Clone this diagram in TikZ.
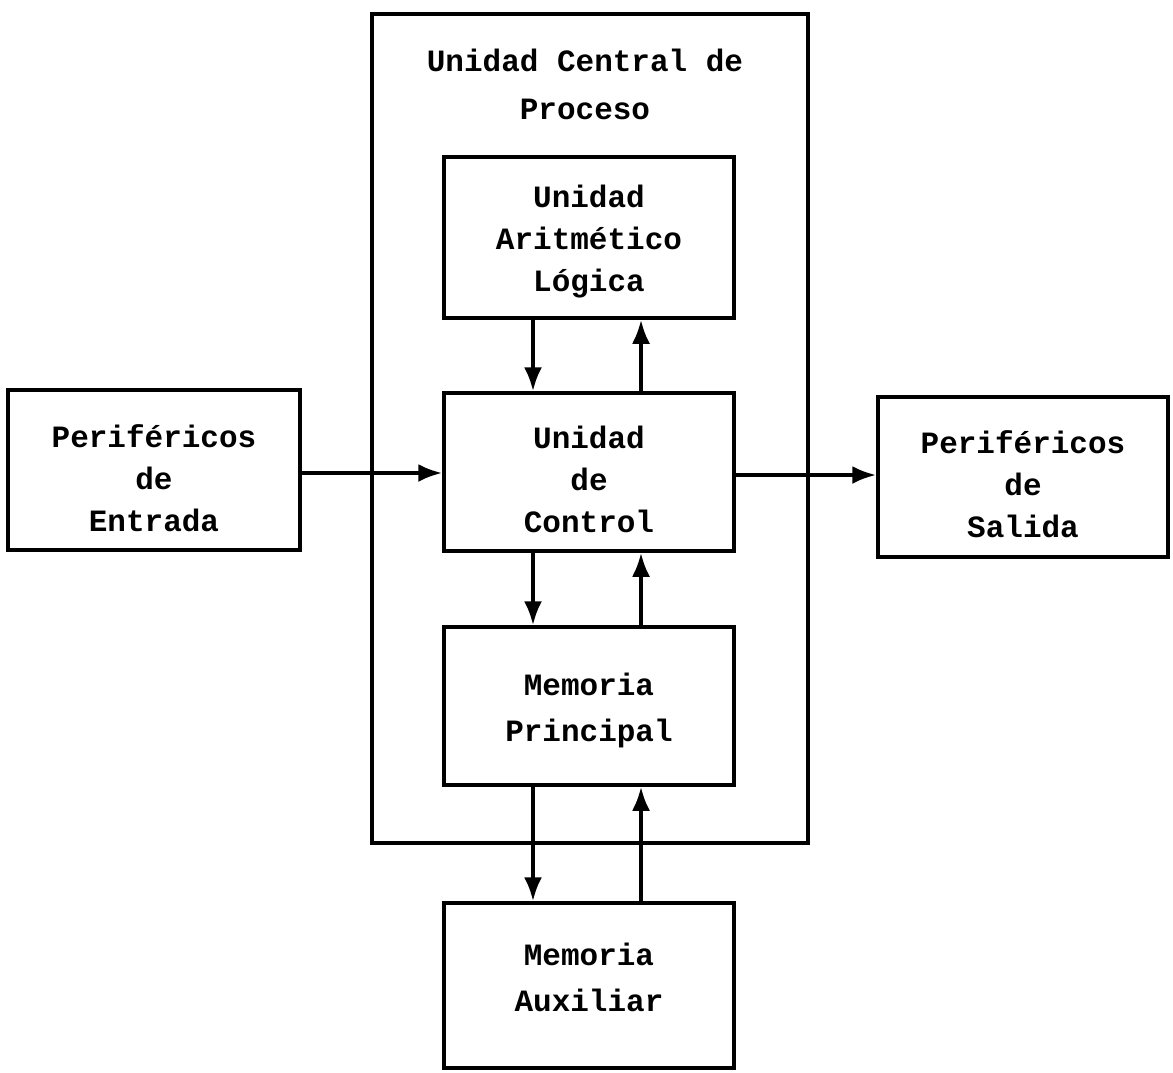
\documentclass[tikz,border=0pt]{standalone}
\usepackage{fontspec}
\setmonofont{Liberation Mono}
\usetikzlibrary{arrows.meta}
\begin{document}
\begin{tikzpicture}[x=1pt,y=-1pt,
  box/.style={draw, line width=3.5pt, minimum width=290pt, minimum height=158pt, inner sep=0pt},
  txt/.style={font=\fontsize{31}{42}\ttfamily\bfseries, align=center, inner sep=0pt},
  lbl/.style={font=\fontsize{31}{48}\ttfamily\bfseries, align=center},
  arr/.style={line width=3.8pt, -{Latex[length=24pt,width=18pt]}}]
\useasboundingbox (0,0) rectangle (1173,1072);
\draw[line width=3.5pt] (372,14) rectangle (808,843);
\node[lbl] (title) at (585,84) {Unidad Central de\\Proceso};
\node[box, minimum height=161pt] (alu) at (589,237.5) {};
\node[box] (uc) at (589,472) {};
\node[box] (mp) at (589,706) {};
\node[box, minimum height=165pt] (ma) at (589,985.5) {};
\node[box, minimum width=292pt, minimum height=160pt] (pe) at (154,470) {};
\node[box, minimum width=290pt, minimum height=160pt] (ps) at (1023,477) {};
\node[txt] (alut) at ([yshift=-4pt]alu.center) {Unidad\\Aritmético\\Lógica};
\node[txt] (uct) at ([yshift=-7pt]uc.center) {Unidad\\de\\Control};
\node[txt, font=\fontsize{31}{46}\ttfamily\bfseries] (mpt) at ([yshift=-4pt]mp.center) {Memoria\\Principal};
\node[txt, font=\fontsize{31}{46}\ttfamily\bfseries] (mat) at ([yshift=8pt]ma.center) {Memoria\\Auxiliar};
\node[txt] (pet) at ([yshift=-8pt]pe.center) {Periféricos\\de\\Entrada};
\node[txt] (pst) at ([yshift=-7pt]ps.center) {Periféricos\\de\\Salida};
\draw[arr] (alu.south -| 533,0) -- (uc.north -| 533,0);
\draw[arr] (uc.north -| 641,0) -- (alu.south -| 641,0);
\draw[arr] (uc.south -| 533,0) -- (mp.north -| 533,0);
\draw[arr] (mp.north -| 641,0) -- (uc.south -| 641,0);
\draw[arr] (mp.south -| 533,0) -- (ma.north -| 533,0);
\draw[arr] (ma.north -| 641,0) -- (mp.south -| 641,0);
\draw[arr] (pe.east |- 0,473) -- (uc.west |- 0,473);
\draw[arr] (uc.east |- 0,475) -- (ps.west |- 0,475);
\end{tikzpicture}
\end{document}
